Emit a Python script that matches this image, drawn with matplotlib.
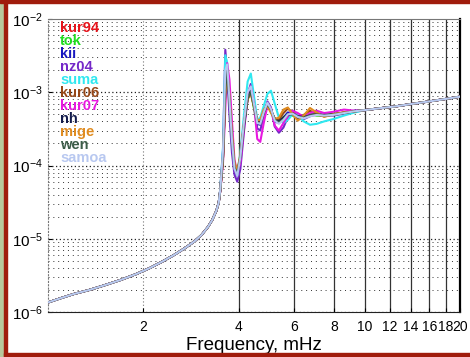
import matplotlib
matplotlib.use('Agg')
import matplotlib.pyplot as plt
from matplotlib.patches import Rectangle

plt.rcParams['font.family'] = ['Liberation Sans', 'DejaVu Sans']
plt.rcParams['mathtext.fontset'] = 'custom'
plt.rcParams['mathtext.rm'] = 'Liberation Sans'
plt.rcParams['mathtext.it'] = 'Liberation Sans'

# shared low-frequency part (all stations practically identical), mHz / amplitude
freq_lo = [1.0, 1.1, 1.2, 1.35, 1.5, 1.7, 1.9, 2.1, 2.3, 2.5, 2.7, 2.9, 3.05, 3.2, 3.3, 3.4, 3.46]
amp_lo = [1.35e-6, 1.55e-6, 1.75e-6, 2.0e-6, 2.3e-6, 2.75e-6, 3.3e-6, 4.0e-6, 4.9e-6,
          6.0e-6, 7.4e-6, 9.2e-6, 1.12e-5, 1.45e-5, 1.8e-5, 2.4e-5, 3.1e-5]

# resonance region, values in units of 1e-4
freq_res = [3.50, 3.57, 3.63, 3.68, 3.74, 3.81, 3.88, 3.96, 4.05, 4.16, 4.27, 4.37, 4.47, 4.58,
            4.68, 4.80, 4.93, 5.06, 5.20, 5.36, 5.54, 5.72, 5.92, 6.15, 6.42, 6.72, 7.05, 7.45,
            7.95, 8.60, 9.30]

kur94 = [0.46, 1.3, 11, 22, 8, 2.2, 0.95, 0.75, 1.3, 3.8, 8.5, 10, 6.5, 3.9, 3.8, 5.5, 7.0, 5.6,
         4.2, 3.9, 4.4, 5.2, 5.0, 4.5, 4.6, 5.0, 4.9, 4.7, 5.0, 5.3, 5.5]
tok = [0.47, 1.4, 12, 20, 7, 2.0, 0.9, 0.8, 1.4, 4.0, 9, 10.5, 6, 3.6, 4.0, 5.8, 6.8, 5.4,
       4.3, 4.0, 4.6, 5.0, 4.8, 4.4, 4.7, 5.1, 4.8, 4.8, 5.1, 5.2, 5.5]
kii = [0.46, 1.5, 14, 21, 7.5, 2.1, 0.85, 0.72, 1.2, 3.6, 8.8, 11, 6.8, 3.7, 3.6, 5.2, 7.2, 5.8,
       4.0, 3.8, 4.5, 5.3, 5.1, 4.4, 4.5, 4.9, 5.0, 4.8, 4.9, 5.3, 5.6]
nz04 = [0.48, 1.6, 38, 18, 5, 1.5, 0.75, 0.6, 0.9, 3.0, 9.5, 13, 7.5, 3.2, 3.0, 4.8, 7.5, 6.2,
        3.4, 2.8, 3.3, 4.6, 5.4, 4.8, 4.3, 4.7, 5.2, 4.9, 4.8, 5.1, 5.4]
suma = [0.47, 1.8, 32, 25, 8, 2.3, 1.0, 0.75, 1.5, 5.0, 14, 18, 9, 4.2, 4.5, 6.5, 9.5, 10.5,
        7.0, 4.5, 3.8, 4.2, 5.0, 4.8, 4.0, 3.6, 3.7, 4.0, 4.3, 4.8, 5.3]
kur06 = [0.46, 1.3, 10, 19, 8.5, 2.6, 1.0, 0.78, 1.3, 3.7, 8.2, 10, 6.6, 4.0, 3.9, 5.4, 6.6, 5.5,
         4.4, 4.2, 5.2, 6.0, 5.3, 4.5, 4.9, 5.6, 5.0, 4.7, 5.0, 5.3, 5.5]
kur07 = [0.45, 1.1, 6, 25, 15, 4, 1.2, 0.8, 1.1, 3.2, 8, 12, 7, 2.3, 2.1, 3.8, 6.5, 6.0,
         3.5, 3.0, 3.8, 4.8, 5.6, 5.2, 4.6, 5.2, 5.6, 5.2, 5.4, 5.8, 5.6]
nh = [0.46, 1.3, 11, 21, 8, 2.4, 1.0, 0.8, 1.3, 3.7, 8.3, 10.5, 6.6, 3.9, 3.8, 5.3, 6.8, 5.7,
      4.3, 4.0, 4.5, 5.0, 5.0, 4.7, 4.6, 4.8, 4.9, 4.9, 5.0, 5.2, 5.5]
mige = [0.46, 1.2, 9, 20, 9, 2.8, 1.1, 0.85, 1.4, 3.9, 8, 9.5, 6.3, 4.2, 4.2, 5.8, 6.5, 5.2,
        4.3, 4.5, 5.8, 6.2, 5.0, 4.1, 4.8, 6.1, 5.3, 4.6, 5.0, 5.3, 5.5]
wen = [0.46, 1.3, 11, 20, 8, 2.3, 0.95, 0.78, 1.3, 3.6, 8.2, 10, 6.5, 3.9, 3.7, 5.2, 6.9, 5.8,
       4.2, 3.9, 4.3, 5.0, 5.1, 4.6, 4.5, 4.9, 5.0, 4.8, 4.9, 5.2, 5.5]
samoa = [0.47, 1.6, 20, 24, 8, 2.2, 0.9, 0.72, 1.3, 4.0, 10, 12, 7, 3.8, 3.7, 5.3, 7.2, 5.9,
         4.1, 3.7, 4.2, 5.0, 5.1, 4.6, 4.4, 4.7, 4.9, 4.8, 4.9, 5.2, 5.5]

# shared high-frequency tail, units of 1e-4
freq_hi = [10.0, 11.0, 12.5, 14.0, 16.0, 18.0, 20.0]
amp_hi = [5.7, 6.0, 6.4, 6.9, 7.5, 8.1, 8.7]

stations = ['kur94', 'tok', 'kii', 'nz04', 'suma', 'kur06', 'kur07', 'nh', 'mige', 'wen', 'samoa']
series = [kur94, tok, kii, nz04, suma, kur06, kur07, nh, mige, wen, samoa]
colors = ['#e8141c', '#20e020', '#1818c0', '#7428c8', '#30e8f0', '#964818', '#e818e0',
          '#141c4c', '#e08c20', '#3c5c48', '#b8c8f0']

fig = plt.figure(figsize=(4.70, 3.57), dpi=100)
fig.patch.set_facecolor('white')

# frame decorations
fig.patches.append(Rectangle((0, 0), 4 / 470, 1, transform=fig.transFigure, color='#b8c89c', zorder=0))
fig.patches.append(Rectangle((4 / 470, 0), 3 / 470, 1, transform=fig.transFigure, color='#a01c0c', zorder=0))
fig.patches.append(Rectangle((0, 354 / 357), 1, 3 / 357, transform=fig.transFigure, color='#a01c0c', zorder=0))
fig.patches.append(Rectangle((4 / 470, 1 / 357), 1, 3 / 357, transform=fig.transFigure, color='#a01c0c', zorder=0))

ax = fig.add_axes([48 / 470, 45 / 357, 412 / 470, 293 / 357])
ax.set_xscale('log')
ax.set_yscale('log')
ax.set_xlim(1, 20)
ax.set_ylim(1e-6, 1e-2)

# grid
for k in range(-6, -2):
    ax.axhline(10.0 ** k, color='#222222', lw=0.9, ls=(0, (1, 2)), zorder=1)
    for m in range(2, 10):
        ax.axhline(m * 10.0 ** k, color='#333333', lw=0.7, ls=(0, (1, 4)), zorder=1)
ax.axvline(2, color='#777777', lw=0.8, ls=(0, (1, 2)), zorder=1)
for xv in [4, 6, 8, 10, 12, 14, 16, 18]:
    ax.axvline(xv, color='#333333', lw=0.9, zorder=1)

for name, vals, c in zip(stations, series, colors):
    f = freq_lo + freq_res + freq_hi
    a = amp_lo + [v * 1e-4 for v in vals] + [v * 1e-4 for v in amp_hi]
    ax.plot(f, a, color=c, lw=1.5, zorder=3)

# station labels
ys = [28, 41, 54, 67, 80, 93, 106, 119, 132, 145, 158]
for name, c, yp in zip(stations, colors, ys):
    ax.text(0.03, (312 - yp) / 293, name, color=c, fontsize=10.5, fontweight='bold',
            transform=ax.transAxes, va='center', ha='left', zorder=5)

ax.set_xticks([2, 4, 6, 8, 10, 12, 14, 16, 18, 20])
ax.set_xticklabels(['2', '4', '6', '8', '10', '12', '14', '16', '18', '20'])
ax.xaxis.set_minor_locator(matplotlib.ticker.NullLocator())
ax.set_yticks([1e-6, 1e-5, 1e-4, 1e-3, 1e-2])
ax.set_yticklabels([r'$10^{-6}$', r'$10^{-5}$', r'$10^{-4}$', r'$10^{-3}$', r'$10^{-2}$'])
ax.yaxis.set_minor_locator(matplotlib.ticker.NullLocator())
ax.tick_params(axis='y', labelsize=11, length=3, direction='in', width=0.8)
ax.tick_params(axis='x', labelsize=10, length=3, direction='in', width=0.8, pad=6)
ax.set_xlabel('Frequency, mHz', fontsize=13.5, labelpad=2)

ax.spines['top'].set_color('#777777')
ax.spines['left'].set_linestyle((0, (1, 2)))
ax.spines['left'].set_color('#777777')
ax.spines['right'].set_color('black')
ax.spines['right'].set_linewidth(1.6)
ax.spines['bottom'].set_color('#222222')

fig.savefig('out.png', dpi=100, facecolor=fig.get_facecolor())
